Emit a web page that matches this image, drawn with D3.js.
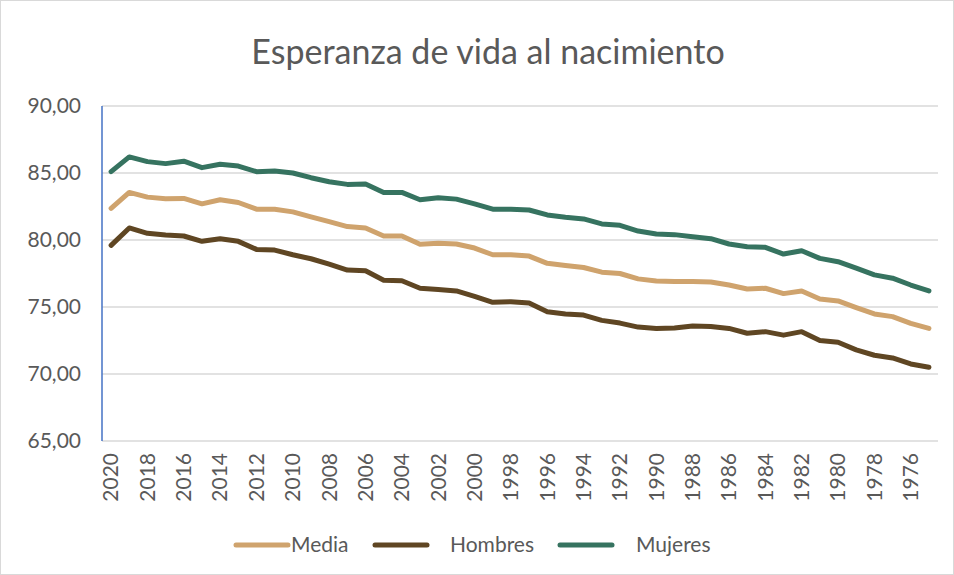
<!DOCTYPE html>
<html><head><meta charset="utf-8">
<script src="https://cdn.jsdelivr.net/npm/d3@7"></script>
<style>body{margin:0;background:#fff}svg{display:block}text{font-family:Lato,"Open Sans",sans-serif}</style>
</head><body><div id="chart"></div>
<script>
const years = [2020,2019,2018,2017,2016,2015,2014,2013,2012,2011,2010,2009,2008,2007,2006,2005,2004,2003,2002,2001,2000,1999,1998,1997,1996,1995,1994,1993,1992,1991,1990,1989,1988,1987,1986,1985,1984,1983,1982,1981,1980,1979,1978,1977,1976,1975];
const media = [82.36,83.55,83.2,83.07,83.1,82.7,83.0,82.8,82.3,82.3,82.1,81.72,81.37,81.0,80.9,80.3,80.3,79.68,79.75,79.7,79.4,78.9,78.9,78.8,78.26,78.1,77.95,77.6,77.5,77.1,76.94,76.9,76.9,76.87,76.64,76.34,76.4,76.0,76.2,75.6,75.45,74.95,74.48,74.28,73.78,73.4];
const hombres = [79.6,80.9,80.5,80.37,80.3,79.9,80.1,79.9,79.3,79.25,78.9,78.6,78.2,77.76,77.7,77.0,76.96,76.4,76.3,76.2,75.8,75.35,75.4,75.3,74.65,74.48,74.4,74.0,73.8,73.5,73.4,73.43,73.58,73.55,73.4,73.04,73.16,72.9,73.16,72.5,72.37,71.8,71.4,71.2,70.75,70.5];
const mujeres = [85.1,86.2,85.85,85.7,85.88,85.4,85.65,85.52,85.1,85.15,85.0,84.65,84.35,84.15,84.18,83.55,83.55,83.0,83.15,83.05,82.7,82.3,82.3,82.24,81.87,81.7,81.57,81.2,81.1,80.67,80.45,80.4,80.25,80.1,79.7,79.5,79.45,78.95,79.2,78.63,78.38,77.9,77.4,77.15,76.64,76.2];
const yTicks = [65,70,75,80,85,90];
const seriesNames = ["Media","Hombres","Mujeres"];
const colors = ["#CFA36D","#5F4623","#367360"];
const seriesData = [media, hombres, mujeres];

const W = 954, H = 575;
const m = {left:102, right:16, top:106, bottom:134};
const svg = d3.select("#chart").append("svg").attr("width",W).attr("height",H);
svg.append("rect").attr("x",0.5).attr("y",0.5).attr("width",W-1).attr("height",H-1).attr("fill","#fff").attr("stroke","#d9d9d9");

const x = d3.scaleBand().domain(years).range([m.left, W-m.right]);
const y = d3.scaleLinear().domain([65,90]).range([H-m.bottom, m.top]);

// gridlines
svg.append("g").selectAll("line").data(yTicks).join("line")
  .attr("x1",m.left).attr("x2",W-m.right)
  .attr("y1",d=>y(d)).attr("y2",d=>y(d))
  .attr("stroke","#d9d9d9").attr("stroke-width",1.3);

// y labels
svg.append("g").selectAll("text").data(yTicks).join("text")
  .attr("x",81).attr("y",d=>y(d)).attr("dy","0.35em")
  .attr("text-anchor","end").attr("fill","#595959").attr("font-size",21)
  .text(d=>d3.format(".2f")(d).replace(".",","));

// y axis line
svg.append("line").attr("x1",m.left).attr("x2",m.left).attr("y1",y(90)).attr("y2",y(65))
  .attr("stroke","#4472C4").attr("stroke-width",1.5);

// x labels
const xLabels = years.filter(d=>d%2===0);
svg.append("g").selectAll("text").data(xLabels).join("text")
  .attr("transform",d=>`translate(${x(d)+x.bandwidth()/2},${y(65)+12}) rotate(-90)`)
  .attr("text-anchor","end").attr("dy","0.35em")
  .attr("fill","#595959").attr("font-size",21).text(d=>d);

// lines
const line = d3.line().x((d,i)=>x(years[i])+x.bandwidth()/2).y(d=>y(d));
seriesData.forEach((s,k)=>{
  svg.append("path").datum(s).attr("d",line).attr("fill","none")
    .attr("stroke",colors[k]).attr("stroke-width",5)
    .attr("stroke-linejoin","round").attr("stroke-linecap","round");
});

// title
svg.append("text").attr("x",488).attr("y",64).attr("text-anchor","middle")
  .attr("fill","#595959").attr("font-size",34).text("Esperanza de vida al nacimiento");

// legend
const legX = [236,375,560];
const legTX = [291,450,636];
seriesNames.forEach((n,k)=>{
  svg.append("line").attr("x1",legX[k]).attr("x2",legX[k]+52).attr("y1",545).attr("y2",545)
    .attr("stroke",colors[k]).attr("stroke-width",5).attr("stroke-linecap","round");
  svg.append("text").attr("x",legTX[k]).attr("y",545).attr("dy","0.35em")
    .attr("fill","#595959").attr("font-size",21).text(n);
});
</script></body></html>
